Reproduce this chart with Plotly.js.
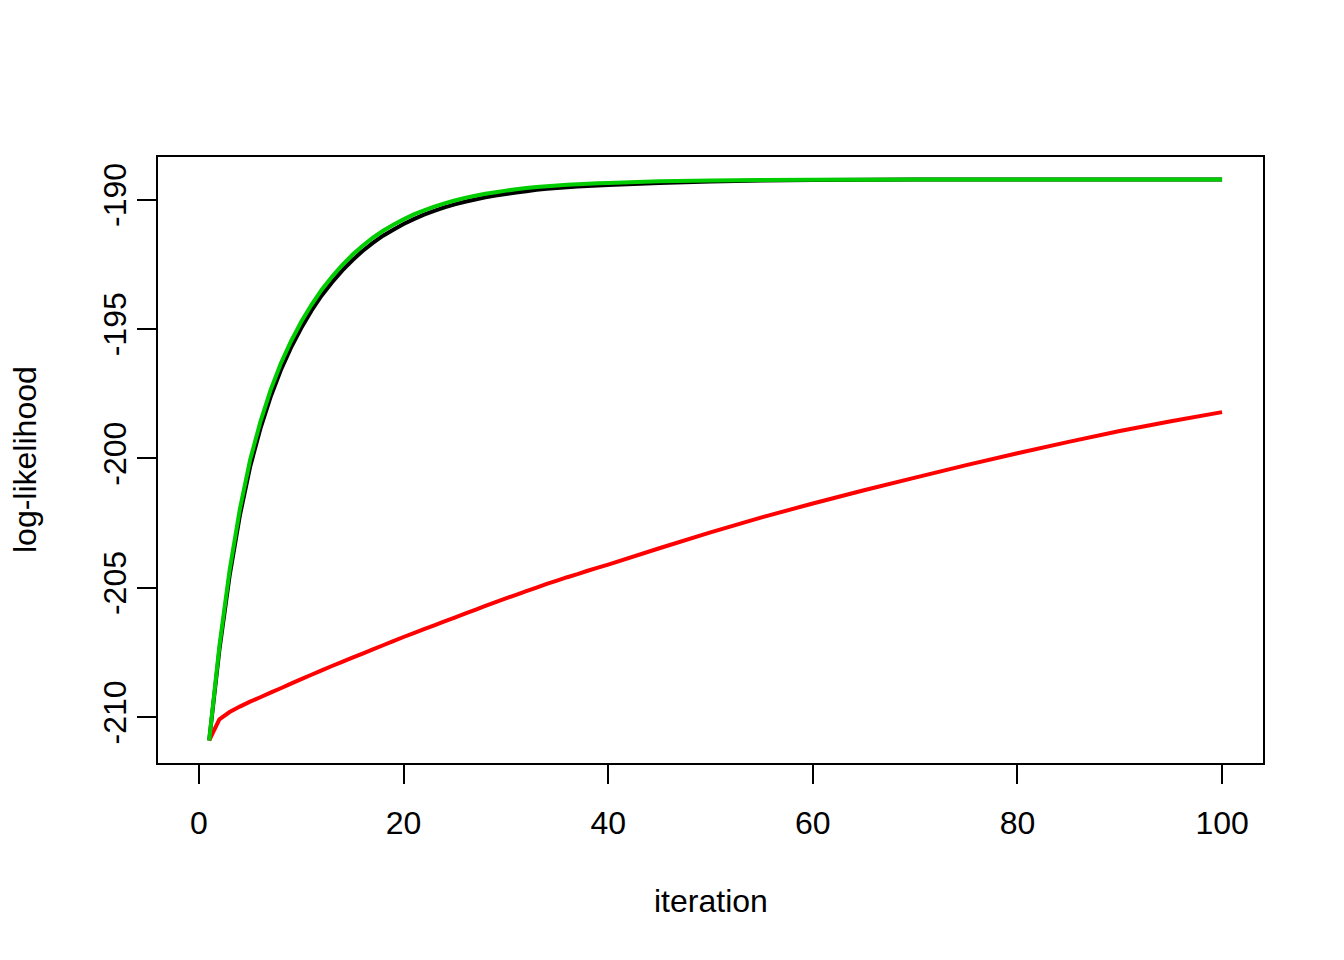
<!DOCTYPE html>
<html>
<head>
<meta charset="utf-8">
<script src="https://cdn.plot.ly/plotly-3.0.1.min.js"></script>
<style>
  html, body { margin: 0; padding: 0; background: #ffffff; }
  #chart { width: 1344px; height: 960px; }
</style>
</head>
<body>
<div id="chart"></div>
<script>
// ---- data ----
const iteration = [1,2,3,4,5,6,7,8,9,10,11,12,13,14,15,16,17,18,19,20,
  21,22,23,24,25,26,27,28,29,30,31,32,33,34,35,36,37,38,39,40,
  45,50,55,60,65,70,75,80,85,90,95,100];

const loglikBlack = [-210.90,-207.40,-204.53,-202.21,-200.33,-198.86,-197.63,-196.59,-195.72,-194.96,
  -194.29,-193.70,-193.20,-192.74,-192.34,-191.98,-191.67,-191.39,-191.16,-190.94,
  -190.75,-190.58,-190.43,-190.30,-190.18,-190.08,-189.99,-189.91,-189.84,-189.78,
  -189.72,-189.67,-189.62,-189.58,-189.55,-189.52,-189.49,-189.47,-189.45,-189.43,
  -189.35,-189.30,-189.26,-189.24,-189.225,-189.22,-189.22,-189.22,-189.22,-189.22,-189.22,-189.22];

const loglikRed = [-210.90,-210.08,-209.80,-209.59,-209.40,-209.23,-209.05,-208.88,-208.70,-208.53,
  -208.36,-208.19,-208.02,-207.86,-207.70,-207.54,-207.38,-207.22,-207.06,-206.90,
  -206.75,-206.60,-206.45,-206.30,-206.15,-206.00,-205.85,-205.70,-205.55,-205.41,
  -205.27,-205.13,-204.99,-204.85,-204.72,-204.59,-204.47,-204.34,-204.22,-204.10,
  -203.47,-202.86,-202.28,-201.74,-201.23,-200.74,-200.26,-199.80,-199.36,-198.94,-198.56,-198.21];

const loglikGreen = [-210.90,-207.25,-204.31,-201.96,-200.06,-198.59,-197.36,-196.33,-195.47,-194.72,
  -194.06,-193.48,-192.98,-192.53,-192.13,-191.78,-191.47,-191.20,-190.97,-190.76,
  -190.57,-190.41,-190.27,-190.14,-190.03,-189.93,-189.85,-189.77,-189.71,-189.65,
  -189.60,-189.55,-189.51,-189.48,-189.45,-189.42,-189.40,-189.38,-189.36,-189.35,
  -189.29,-189.26,-189.24,-189.23,-189.225,-189.22,-189.22,-189.22,-189.22,-189.22,-189.22,-189.22];

const xTickVals = [0, 20, 40, 60, 80, 100];
const xTickText = ["0", "20", "40", "60", "80", "100"];
const yTickVals = [-210, -205, -200, -195, -190];
const yTickText = ["-210", "-205", "-200", "-195", "-190"];

const xTitle = "iteration";
const yTitle = "log-likelihood";

// ---- chart ----
const FONT = "'Liberation Sans', Arial, Helvetica, sans-serif";

const traces = [
  { x: iteration, y: loglikBlack, type: "scatter", mode: "lines",
    line: { color: "#000000", width: 4, simplify: false }, hoverinfo: "skip" },
  { x: iteration, y: loglikRed, type: "scatter", mode: "lines",
    line: { color: "#FF0000", width: 4, simplify: false }, hoverinfo: "skip" },
  { x: iteration, y: loglikGreen, type: "scatter", mode: "lines",
    line: { color: "#00CD00", width: 4, simplify: false }, hoverinfo: "skip" }
];

const layout = {
  width: 1344, height: 960,
  margin: { l: 158, r: 81, t: 157, b: 197, pad: 0 },
  paper_bgcolor: "#ffffff", plot_bgcolor: "#ffffff",
  showlegend: false,
  font: { family: FONT, size: 32, color: "#000000" },
  xaxis: {
    range: [-4, 104], autorange: false,
    tickmode: "array", tickvals: xTickVals, ticktext: xTickText,
    ticks: "outside", ticklen: 19, tickwidth: 2, tickcolor: "#000000",
    ticklabelstandoff: 12,
    showline: true, linecolor: "#000000", linewidth: 2, mirror: true,
    showgrid: false, zeroline: false,
    tickfont: { family: FONT, size: 32, color: "#000000" }
  },
  yaxis: {
    range: [-211.77, -188.35], autorange: false,
    tickmode: "array", tickvals: yTickVals, ticktext: yTickText,
    tickangle: -90,
    ticks: "outside", ticklen: 19, tickwidth: 2, tickcolor: "#000000",
    ticklabelstandoff: -2,
    showline: true, linecolor: "#000000", linewidth: 2, mirror: true,
    showgrid: false, zeroline: false,
    tickfont: { family: FONT, size: 32, color: "#000000" }
  },
  annotations: [
    { text: xTitle, xref: "paper", yref: "paper", x: 0.5, y: -(901 - 763) / 606,
      xanchor: "center", yanchor: "middle", showarrow: false,
      font: { family: FONT, size: 32, color: "#000000" } },
    { text: yTitle, xref: "paper", yref: "paper", x: (25 - 158) / 1105, y: 0.5,
      xanchor: "center", yanchor: "middle", textangle: -90, showarrow: false,
      font: { family: FONT, size: 32, color: "#000000" } }
  ]
};

Plotly.newPlot("chart", traces, layout, { staticPlot: true, displayModeBar: false });
</script>
</body>
</html>
